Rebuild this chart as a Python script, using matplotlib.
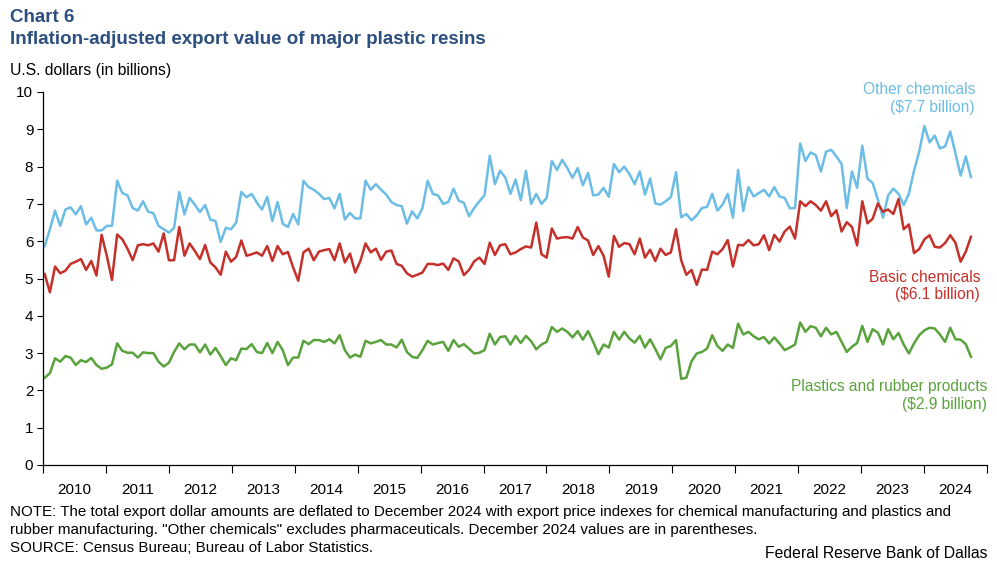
import numpy as np
import matplotlib
matplotlib.use("Agg")
import matplotlib.pyplot as plt

plt.rcParams['font.family'] = ['Liberation Sans', 'DejaVu Sans']

# monthly values, Jan 2010 - Dec 2024, billions of dollars
other_chem = [
    5.87, 6.32, 6.82, 6.41, 6.85, 6.91, 6.72, 6.94, 6.45, 6.63, 6.29, 6.29,
    6.41, 6.41, 7.62, 7.29, 7.23, 6.89, 6.82, 7.07, 6.79, 6.75, 6.41, 6.32,
    6.23, 6.36, 7.32, 6.72, 7.16, 6.98, 6.78, 6.97, 6.58, 6.54, 5.98, 6.36,
    6.32, 6.50, 7.32, 7.18, 7.27, 7.03, 6.85, 7.19, 6.54, 7.05, 6.47, 6.38,
    6.73, 6.45, 7.62, 7.45, 7.38, 7.27, 7.13, 7.16, 6.88, 7.27, 6.58, 6.76,
    6.61, 6.61, 7.62, 7.38, 7.53, 7.38, 7.25, 7.05, 6.97, 6.94, 6.47, 6.80,
    6.61, 6.89, 7.62, 7.27, 7.23, 7.00, 7.05, 7.41, 7.09, 7.03, 6.67, 6.89,
    7.07, 7.23, 8.29, 7.53, 7.89, 7.71, 7.27, 7.65, 7.10, 7.89, 7.00, 7.27,
    7.00, 7.16, 8.15, 7.91, 8.18, 7.96, 7.70, 7.96, 7.50, 7.83, 7.23, 7.25,
    7.43, 7.19, 8.07, 7.85, 8.00, 7.80, 7.53, 7.87, 7.25, 7.68, 7.01, 6.98,
    7.07, 7.18, 7.85, 6.64, 6.73, 6.56, 6.69, 6.89, 6.92, 7.27, 6.82, 6.98,
    7.27, 6.63, 7.91, 6.81, 7.45, 7.20, 7.29, 7.38, 7.20, 7.45, 7.20, 7.16,
    6.88, 6.89, 8.62, 8.15, 8.38, 8.31, 7.87, 8.40, 8.45, 8.27, 8.07, 6.89,
    7.87, 7.43, 8.56, 7.68, 7.56, 7.12, 6.63, 7.23, 7.41, 7.27, 6.97, 7.27,
    7.89, 8.40, 9.09, 8.65, 8.83, 8.49, 8.54, 8.94, 8.36, 7.76, 8.27, 7.72,
]

basic_chem = [
    5.12, 4.63, 5.32, 5.14, 5.21, 5.39, 5.45, 5.52, 5.23, 5.47, 5.08, 6.17,
    5.61, 4.96, 6.18, 6.05, 5.80, 5.49, 5.89, 5.92, 5.89, 5.94, 5.72, 6.21,
    5.49, 5.49, 6.38, 5.61, 5.94, 5.74, 5.52, 5.90, 5.43, 5.30, 5.10, 5.72,
    5.45, 5.58, 6.02, 5.61, 5.65, 5.70, 5.61, 5.87, 5.47, 5.87, 5.65, 5.71,
    5.30, 4.94, 5.70, 5.80, 5.49, 5.72, 5.76, 5.79, 5.49, 5.94, 5.43, 5.67,
    5.16, 5.47, 5.94, 5.70, 5.80, 5.50, 5.72, 5.75, 5.39, 5.34, 5.14, 5.05,
    5.10, 5.16, 5.39, 5.39, 5.36, 5.40, 5.23, 5.54, 5.46, 5.09, 5.23, 5.46,
    5.56, 5.39, 5.96, 5.63, 5.89, 5.92, 5.65, 5.70, 5.79, 5.86, 5.83, 6.50,
    5.65, 5.56, 6.34, 6.07, 6.10, 6.11, 6.07, 6.38, 6.10, 6.02, 5.63, 5.87,
    5.61, 5.05, 6.14, 5.85, 5.95, 5.92, 5.65, 6.07, 5.56, 5.77, 5.47, 5.80,
    5.63, 5.70, 6.32, 5.49, 5.10, 5.23, 4.83, 5.24, 5.23, 5.72, 5.65, 5.79,
    6.03, 5.32, 5.90, 5.89, 6.03, 5.89, 5.92, 6.16, 5.76, 6.17, 5.99, 6.26,
    6.39, 6.07, 7.07, 6.94, 7.07, 6.97, 6.82, 7.07, 6.67, 6.83, 6.26, 6.51,
    6.38, 5.89, 7.07, 6.48, 6.60, 7.01, 6.79, 6.85, 6.73, 7.13, 6.32, 6.45,
    5.68, 5.79, 6.05, 6.16, 5.85, 5.83, 5.95, 6.16, 5.96, 5.45, 5.72, 6.12,
]

plastics = [
    2.34, 2.46, 2.86, 2.77, 2.92, 2.88, 2.68, 2.81, 2.76, 2.87, 2.68, 2.58,
    2.61, 2.70, 3.26, 3.06, 3.01, 3.01, 2.88, 3.02, 3.00, 3.00, 2.77, 2.64,
    2.74, 3.03, 3.26, 3.10, 3.23, 3.23, 3.02, 3.23, 2.96, 3.14, 2.92, 2.68,
    2.86, 2.81, 3.12, 3.11, 3.24, 3.03, 3.00, 3.27, 3.00, 3.30, 3.08, 2.68,
    2.88, 2.88, 3.33, 3.24, 3.35, 3.35, 3.30, 3.37, 3.26, 3.48, 3.08, 2.88,
    2.96, 2.90, 3.33, 3.26, 3.30, 3.35, 3.23, 3.23, 3.15, 3.36, 3.03, 2.90,
    2.87, 3.08, 3.33, 3.23, 3.27, 3.30, 3.06, 3.35, 3.17, 3.24, 3.12, 2.99,
    3.01, 3.08, 3.52, 3.23, 3.43, 3.45, 3.23, 3.46, 3.27, 3.46, 3.32, 3.10,
    3.23, 3.30, 3.70, 3.57, 3.66, 3.57, 3.42, 3.59, 3.36, 3.59, 3.30, 2.97,
    3.23, 3.15, 3.57, 3.36, 3.57, 3.39, 3.28, 3.46, 3.15, 3.37, 3.11, 2.83,
    3.14, 3.19, 3.35, 2.31, 2.34, 2.78, 2.99, 3.03, 3.12, 3.48, 3.19, 3.06,
    3.23, 3.14, 3.79, 3.50, 3.57, 3.45, 3.37, 3.43, 3.26, 3.42, 3.26, 3.08,
    3.15, 3.23, 3.82, 3.57, 3.72, 3.68, 3.45, 3.68, 3.50, 3.57, 3.30, 3.03,
    3.17, 3.27, 3.73, 3.30, 3.64, 3.55, 3.23, 3.64, 3.37, 3.54, 3.23, 2.99,
    3.26, 3.48, 3.61, 3.68, 3.66, 3.50, 3.30, 3.68, 3.37, 3.36, 3.24, 2.90,
]

years = [str(y) for y in range(2010, 2025)]
yticks = list(range(0, 11))

W, H = 997, 565
fig = plt.figure(figsize=(W / 100, H / 100), dpi=100)

def px(x, y):
    return x / W, 1 - y / H

left, right, top, bottom = 43, 987, 92, 465
ax = fig.add_axes([left / W, 1 - bottom / H, (right - left) / W, (bottom - top) / H])

blue = '#6cbde6'
red = '#c5302a'
green = '#5aa33c'

months = np.arange(len(other_chem))
ax.plot(months, other_chem, color=blue, lw=1.8)
ax.plot(months, basic_chem, color=red, lw=1.8)
ax.plot(months, plastics, color=green, lw=1.8)

# axis runs a little past the last point; 15 equal year bands
xmin, xmax = -0.33, 182.1
band = (xmax - xmin) / 15
ax.set_xlim(xmin, xmax)
ax.set_ylim(0, 10)

ax.set_xticks([xmin + k * band for k in range(16)])
ax.set_xticklabels([])
ax.set_xticks([xmin + (k + 0.5) * band for k in range(15)], minor=True)
ax.set_xticklabels(years, minor=True)
ax.tick_params(axis='x', which='major', direction='out', length=6, width=0.8, color='black')
ax.tick_params(axis='x', which='minor', length=0, pad=13, labelsize=11)

ax.set_yticks(yticks)
ax.tick_params(axis='y', direction='out', length=4, width=0.8, pad=3, labelsize=11)

for s in ['top', 'right']:
    ax.spines[s].set_visible(False)
for s in ['left', 'bottom']:
    ax.spines[s].set_linewidth(0.9)
    ax.spines[s].set_color('black')

title_c = '#2c4f7f'
fig.text(*px(10, 18), 'Chart 6', color=title_c, fontsize=13.5, fontweight='bold', va='center', ha='left')
fig.text(*px(10, 40), 'Inflation-adjusted export value of major plastic resins', color=title_c,
         fontsize=13.5, fontweight='bold', va='center', ha='left')
fig.text(*px(10, 70), 'U.S. dollars (in billions)', fontsize=11.3, va='center', ha='left')

lab = 11.2
fig.text(*px(975, 90), 'Other chemicals', color=blue, fontsize=lab, ha='right', va='center')
fig.text(*px(975, 108), '($7.7 billion)', color=blue, fontsize=lab, ha='right', va='center')
fig.text(*px(980, 277), 'Basic chemicals', color=red, fontsize=lab, ha='right', va='center')
fig.text(*px(980, 295), '($6.1 billion)', color=red, fontsize=lab, ha='right', va='center')
fig.text(*px(987, 386), 'Plastics and rubber products', color=green, fontsize=lab, ha='right', va='center')
fig.text(*px(987, 404), '($2.9 billion)', color=green, fontsize=lab, ha='right', va='center')

note_lines = [
    'NOTE: The total export dollar amounts are deflated to December 2024 with export price indexes for chemical manufacturing and plastics and',
    'rubber manufacturing. "Other chemicals" excludes pharmaceuticals. December 2024 values are in parentheses.',
    'SOURCE: Census Bureau; Bureau of Labor Statistics.',
]
for k, line in enumerate(note_lines):
    fig.text(*px(10, 512 + 18 * k), line, fontsize=10.9, va='center', ha='left')
fig.text(*px(987, 553), 'Federal Reserve Bank of Dallas', fontsize=11.3, va='center', ha='right')

fig.savefig('out.png', dpi=100)
